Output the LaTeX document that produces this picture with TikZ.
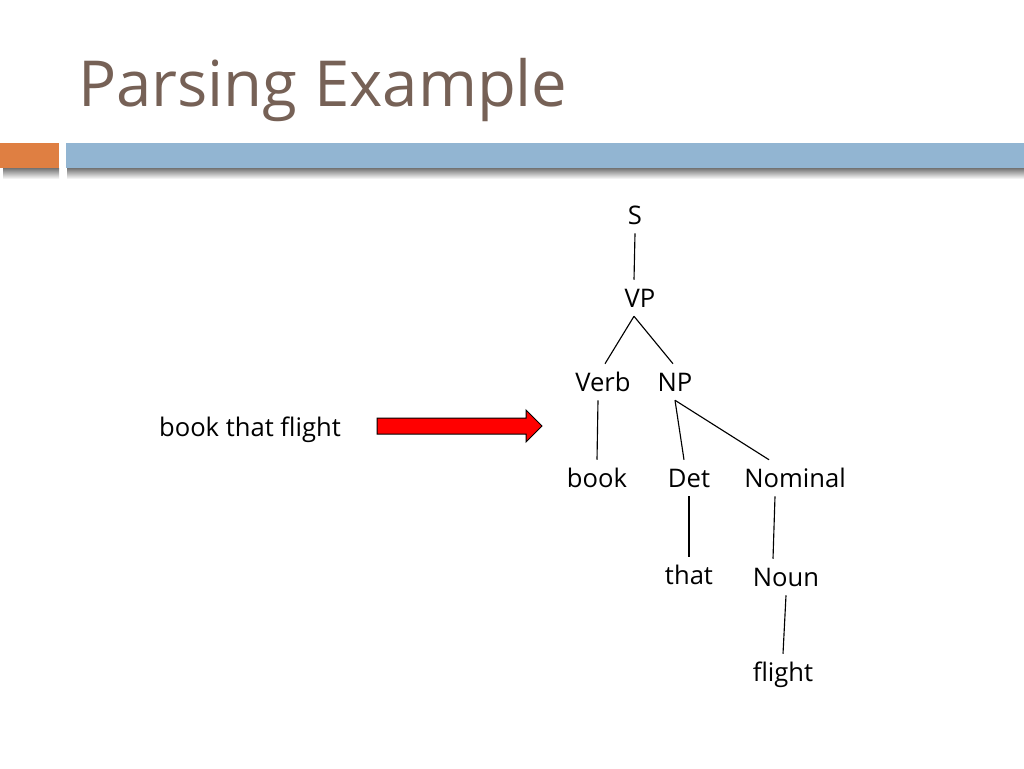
\documentclass[tikz,border=0pt]{standalone}
\usepackage{fontspec}
\setmainfont{Open Sans}
\definecolor{titlebrown}{RGB}{118,97,86}
\definecolor{barorange}{RGB}{223,127,66}
\definecolor{barblue}{RGB}{146,181,210}
\tikzset{
  word/.style={font=\fontsize{19.2}{23}\selectfont, anchor=base, inner xsep=0pt, inner ysep=6.75pt, text height=13.5pt, text depth=0pt},
  branch/.style={line width=0.85pt}
}

\begin{document}
\begin{tikzpicture}[x=0.75pt,y=-0.75pt]
\useasboundingbox (0,0) rectangle (1024,768);

	% title and header bars
	\node[anchor=base west, inner sep=0pt, text=titlebrown, font=\fontsize{47.6}{52}\selectfont] (title) at (78,106) {Parsing Example};
	\shade[top color=black!55, bottom color=white] (3,168) rectangle (59,179);
	\shade[top color=black!55, bottom color=white] (67,168) rectangle (1024,179);
	\fill[barorange] (0,143) rectangle (59,168);
	\fill[barblue] (66,143) rectangle (1024,168);

	% input and arrow
	\node[word] (input) at (250,436) {book that flight};
	\draw[fill=red, line width=0.75pt] (377,418) -- (526,418) -- (526,410) -- (542,426) -- (526,442) -- (526,434) -- (377,434) -- cycle;

	% parse tree
	\node[word] (S) at (635,224) {S};
	\node[word] (VP) at (640,307) {VP};
	\node[word] (Verb) at (603,391) {Verb};
	\node[word] (NP) at (675,391) {NP};
	\node[word] (book) at (597,487) {book};
	\node[word] (Det) at (689,487) {Det};
	\node[word] (Nominal) at (795,487) {Nominal};
	\node[word] (that) at (689,584) {that};
	\node[word] (Noun) at (786,586) {Noun};
	\node[word] (flight) at (783,681) {flight};

	\draw[branch] (S.south) -- ([xshift=-4.5pt]VP.north);
	\draw[branch] ([xshift=-4.5pt]VP.south) -- ([xshift=1.5pt]Verb.north);
	\draw[branch] ([xshift=-4.5pt]VP.south) -- ([xshift=-1.5pt]NP.north);
	\draw[branch] ([xshift=-3.75pt]Verb.south) -- (book.north);
	\draw[branch] (NP.south) -- ([xshift=-3.75pt]Det.north);
	\draw[branch] (NP.south) -- ([xshift=-19.5pt]Nominal.north);
	\draw[branch] (Det.south) -- (that.north);
	\draw[branch] ([xshift=-15pt]Nominal.south) -- ([xshift=-9.75pt]Noun.north);
	\draw[branch] (Noun.south) -- (flight.north);

\end{tikzpicture}
\end{document}
